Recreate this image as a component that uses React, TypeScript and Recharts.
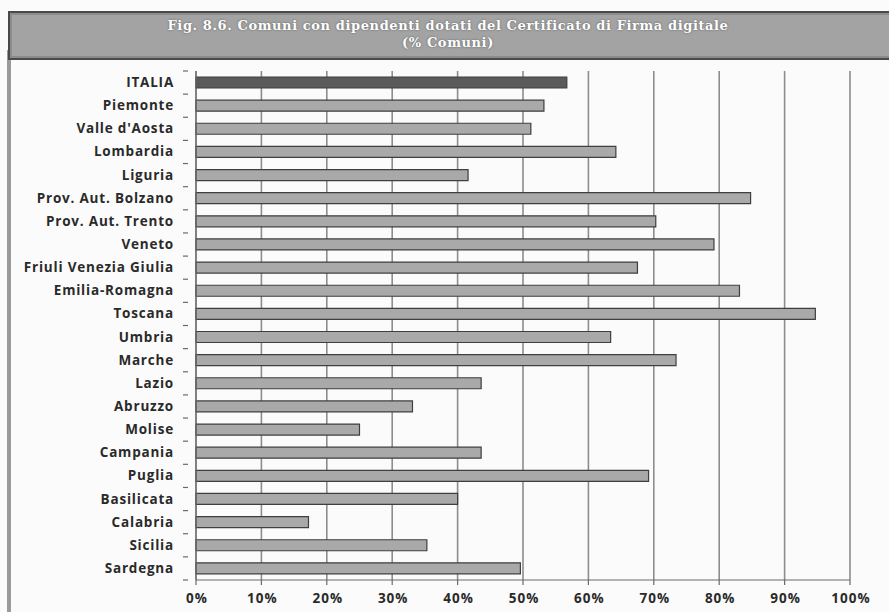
import { BarChart, Bar, XAxis, YAxis, CartesianGrid, Cell } from 'recharts'

const regions = [
  'ITALIA', 'Piemonte', "Valle d'Aosta", 'Lombardia', 'Liguria', 'Prov. Aut. Bolzano',
  'Prov. Aut. Trento', 'Veneto', 'Friuli Venezia Giulia', 'Emilia-Romagna', 'Toscana',
  'Umbria', 'Marche', 'Lazio', 'Abruzzo', 'Molise', 'Campania', 'Puglia', 'Basilicata',
  'Calabria', 'Sicilia', 'Sardegna',
]

const percentComuni = [
  56.7, 53.2, 51.2, 64.2, 41.6, 84.8, 70.3, 79.2, 67.5, 83.1, 94.7,
  63.4, 73.4, 43.6, 33.1, 25.0, 43.6, 69.2, 40.0, 17.2, 35.3, 49.6,
]

const xTicks = [0, 10, 20, 30, 40, 50, 60, 70, 80, 90, 100]

const data = regions.map((name, i) => ({ name, value: percentComuni[i] }))

const BAND = (580 - 71) / regions.length

const RegionTick = (props: any) => {
  const { x, y, payload, index } = props
  const isLast = index === regions.length - 1
  return (
    <g>
      <line x1={x - 5} x2={x} y1={y - BAND / 2} y2={y - BAND / 2} stroke="#6b6b6b" strokeWidth={1.2} />
      {isLast && <line x1={x - 5} x2={x} y1={y + BAND / 2} y2={y + BAND / 2} stroke="#6b6b6b" strokeWidth={1.2} />}
      <text x={x - 14} y={y} dy={4.5} textAnchor="end" fontSize={13.5} fontWeight={700} fill="#2a2a2a"
        letterSpacing={0.8} fontFamily="'Open Sans', sans-serif">
        {payload.value}
      </text>
    </g>
  )
}

const PercentTick = (props: any) => {
  const { x, y, payload } = props
  return (
    <text x={x + 1} y={y} dy={16} textAnchor="middle" fontSize={13.5} fontWeight={700} fill="#2a2a2a"
      letterSpacing={1} fontFamily="'Open Sans', sans-serif">
      {`${payload.value}%`}
    </text>
  )
}

export default function App() {
  return (
    <div style={{ position: 'absolute', left: 0, top: 0, width: 889, height: 612, background: '#fbfbfb', overflow: 'hidden' }}>
      {/* left frame edge */}
      <div style={{ position: 'absolute', left: 7, top: 50, width: 4, height: 562, background: '#9a9a9a' }} />
      {/* title banner */}
      <div
        style={{
          position: 'absolute', left: 8, top: 11, width: 890, height: 41,
          background: '#a3a3a3', border: '2px solid #4a4a4a', boxShadow: 'inset 0 0 0 2px #8c8c8c',
          color: '#fff', fontFamily: "'DejaVu Serif', serif", fontWeight: 700, fontSize: 13,
          letterSpacing: 0.6, textAlign: 'center', lineHeight: '17px', paddingTop: 4, boxSizing: 'content-box',
          textShadow: '0 0 2px #555',
        }}
      >
        <div style={{ marginLeft: -14 }}>Fig. 8.6. Comuni con dipendenti dotati del Certificato di Firma digitale</div>
        <div style={{ marginLeft: -14 }}>(% Comuni)</div>
      </div>
      <div style={{ position: 'absolute', left: 0, top: 0 }}>
        <BarChart
          width={889}
          height={612}
          data={data}
          layout="vertical"
          margin={{ top: 71, right: 39, bottom: 2, left: 0 }}
          barCategoryGap={0}
        >
          <CartesianGrid horizontal={false} stroke="#8d8d8d" strokeWidth={1.6} />
          <XAxis
            type="number"
            domain={[0, 100]}
            ticks={xTicks}
            height={30}
            axisLine={{ stroke: '#6b6b6b', strokeWidth: 1.2 }}
            tickLine={{ stroke: '#6b6b6b', strokeWidth: 1.2 }}
            tickSize={5}
            tick={<PercentTick />}
          />
          <YAxis
            type="category"
            dataKey="name"
            width={196}
            interval={0}
            axisLine={{ stroke: '#6b6b6b', strokeWidth: 1.2 }}
            tickLine={false}
            tick={<RegionTick />}
          />
          <Bar dataKey="value" barSize={11} stroke="#3f3f3f" strokeWidth={1.2} isAnimationActive={false}>
            {data.map((d, i) => (
              <Cell key={d.name} fill={i === 0 ? '#5a5a5a' : '#a9a9a9'} />
            ))}
          </Bar>
        </BarChart>
      </div>
    </div>
  )
}
